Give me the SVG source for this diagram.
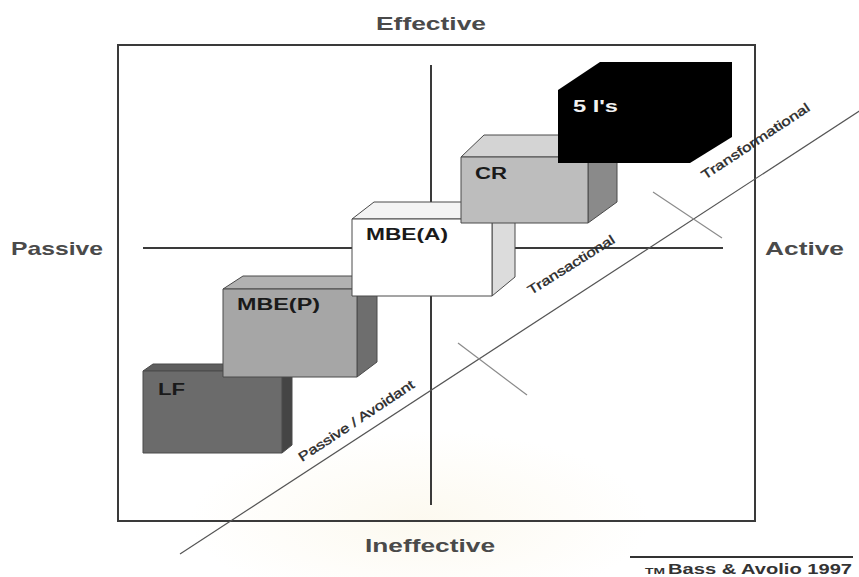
<svg xmlns="http://www.w3.org/2000/svg" width="859" height="577" viewBox="0 0 859 577">
  <style>
    .axis { stroke: #3a3a3a; stroke-width: 2; fill: none; }
    .thin { stroke: #555; stroke-width: 1.2; fill: none; }
    .tick { stroke: #8a8a8a; stroke-width: 1.2; fill: none; }
    .edge { stroke: #4a4a4a; stroke-width: 1; stroke-linejoin: round; }
    .pole { font-family: "Liberation Sans", Arial, sans-serif; font-weight: bold; font-size: 19px; fill: #4a4a4a; }
    .lbl { font-family: "Liberation Sans", Arial, sans-serif; font-weight: bold; font-size: 16px; fill: #1a1a1a; }
    .diag { font-family: "Liberation Sans", Arial, sans-serif; font-size: 13px; fill: #2a2a2a; stroke: #2a2a2a; stroke-width: 0.35; }
    .cite { font-family: "Liberation Sans", Arial, sans-serif; font-weight: bold; fill: #333; }
  </style>
  <defs>
    <radialGradient id="glow" cx="0.5" cy="0.5" r="0.5">
      <stop offset="0" stop-color="#f6eccc" stop-opacity="0.3"/>
      <stop offset="1" stop-color="#f6eccc" stop-opacity="0"/>
    </radialGradient>
  </defs>

  <rect width="859" height="577" fill="#ffffff"/>
  <!-- faint background glow near the lower edge -->
  <ellipse cx="420" cy="520" rx="230" ry="90" fill="url(#glow)"/>

  <!-- frame and axes -->
  <g id="frame">
    <rect x="118" y="45" width="637" height="476" class="axis"/>
  </g>
  <g id="connectors">
    <line x1="431" y1="65" x2="431" y2="505" class="axis"/>
    <line x1="143" y1="248" x2="723" y2="248" class="axis"/>
    <line x1="180" y1="554" x2="870" y2="104" class="thin"/>
    <line x1="653" y1="192" x2="722" y2="238" class="tick"/>
    <line x1="458" y1="343" x2="527" y2="395" class="tick"/>
  </g>

  <!-- pole labels -->
  <g id="poles">
    <text class="pole" x="431" y="30" text-anchor="middle" textLength="110" lengthAdjust="spacingAndGlyphs">Effective</text>
    <text class="pole" x="430" y="552" text-anchor="middle" textLength="130" lengthAdjust="spacingAndGlyphs">Ineffective</text>
    <text class="pole" x="11" y="255" textLength="92" lengthAdjust="spacingAndGlyphs">Passive</text>
    <text class="pole" x="765" y="255" textLength="79" lengthAdjust="spacingAndGlyphs">Active</text>
  </g>

  <!-- LF -->
  <g id="node-lf">
    <polygon class="edge" points="143,371 153,364 292,364 282,371" fill="#5e5e5e"/>
    <polygon class="edge" points="282,371 292,364 292,445 282,453" fill="#454545"/>
    <rect class="edge" x="143" y="371" width="139" height="82" fill="#6b6b6b"/>
    <text class="lbl" x="158" y="395" textLength="27" lengthAdjust="spacingAndGlyphs">LF</text>
  </g>

  <!-- MBE(P) -->
  <g id="node-mbep">
    <polygon class="edge" points="223,289 243,276 377,276 357,289" fill="#b2b2b2"/>
    <polygon class="edge" points="357,289 377,276 377,362 357,377" fill="#6e6e6e"/>
    <rect class="edge" x="223" y="289" width="134" height="88" fill="#a6a6a6"/>
    <text class="lbl" x="237" y="310" textLength="83" lengthAdjust="spacingAndGlyphs">MBE(P)</text>
  </g>

  <!-- MBE(A) -->
  <g id="node-mbea">
    <polygon class="edge" points="352,219 374,202 515,202 492,219" fill="#f4f4f4"/>
    <polygon class="edge" points="492,219 515,202 515,277 492,296" fill="#dcdcdc"/>
    <rect class="edge" x="352" y="219" width="140" height="77" fill="#ffffff"/>
    <text class="lbl" x="366" y="240" textLength="82" lengthAdjust="spacingAndGlyphs">MBE(A)</text>
  </g>

  <!-- CR -->
  <g id="node-cr">
    <polygon class="edge" points="461,157 484,135 617,135 588,157" fill="#d4d4d4"/>
    <polygon class="edge" points="588,157 617,135 617,202 588,223" fill="#8a8a8a"/>
    <rect class="edge" x="461" y="157" width="127" height="66" fill="#bdbdbd"/>
    <text class="lbl" x="475" y="179" textLength="32" lengthAdjust="spacingAndGlyphs">CR</text>
  </g>

  <!-- 5 I's -->
  <g id="node-5is">
    <polygon points="558,90 600,62 732,62 732,137 690,163 558,163" fill="#000000"/>
    <text class="lbl" x="573" y="112" style="fill:#f2f2f2" textLength="45" lengthAdjust="spacingAndGlyphs">5 I's</text>
  </g>

  <!-- style labels along the diagonal -->
  <g id="diag-labels">
    <text class="diag" transform="translate(302,462) rotate(-33.5)" textLength="136" lengthAdjust="spacingAndGlyphs">Passive / Avoidant</text>
    <text class="diag" transform="translate(531,295) rotate(-32)" textLength="100" lengthAdjust="spacingAndGlyphs">Transactional</text>
    <text class="diag" transform="translate(705,180) rotate(-33.5)" textLength="127" lengthAdjust="spacingAndGlyphs">Transformational</text>
  </g>

  <!-- citation -->
  <g id="citation">
    <line x1="630" y1="557" x2="853" y2="557" stroke="#333" stroke-width="2.2"/>
    <text class="cite" x="645" y="574" font-size="9" textLength="20" lengthAdjust="spacingAndGlyphs">TM</text>
    <text class="cite" x="668" y="574" font-size="14" textLength="184" lengthAdjust="spacingAndGlyphs">Bass &amp; Avolio 1997</text>
  </g>
</svg>
